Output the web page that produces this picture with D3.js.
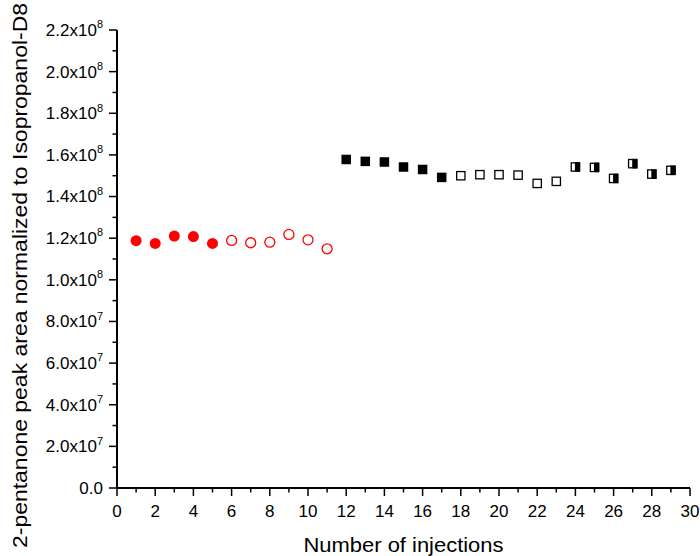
<!DOCTYPE html>
<html>
<head>
<meta charset="utf-8">
<script src="https://cdn.jsdelivr.net/npm/d3@7"></script>
<style>
  html, body { margin: 0; padding: 0; background: #fff; }
  svg { display: block; font-family: "Liberation Sans", Arial, sans-serif; }
</style>
</head>
<body>
<svg id="chart" width="700" height="556"></svg>
<script>
// Injection numbers and normalized peak areas, grouped by marker style
const injFilledCircle = [1, 2, 3, 4, 5];
const valFilledCircle = [1.188e8, 1.175e8, 1.210e8, 1.208e8, 1.175e8];

const injOpenCircle = [6, 7, 8, 9, 10, 11];
const valOpenCircle = [1.189e8, 1.178e8, 1.181e8, 1.218e8, 1.192e8, 1.149e8];

const injFilledSquare = [12, 13, 14, 15, 16, 17];
const valFilledSquare = [1.578e8, 1.569e8, 1.566e8, 1.542e8, 1.530e8, 1.492e8];

const injOpenSquare = [18, 19, 20, 21, 22, 23];
const valOpenSquare = [1.500e8, 1.505e8, 1.505e8, 1.503e8, 1.463e8, 1.473e8];

const injHalfSquare = [24, 25, 26, 27, 28, 29];
const valHalfSquare = [1.542e8, 1.540e8, 1.487e8, 1.558e8, 1.508e8, 1.526e8];

// Axis ticks and labels
const xTicks = [0, 2, 4, 6, 8, 10, 12, 14, 16, 18, 20, 22, 24, 26, 28, 30];
const yTicks = [0, 2e7, 4e7, 6e7, 8e7, 1e8, 1.2e8, 1.4e8, 1.6e8, 1.8e8, 2.0e8, 2.2e8];
const yTickMantissa = ["0.0", "2.0x10", "4.0x10", "6.0x10", "8.0x10", "1.0x10", "1.2x10",
                       "1.4x10", "1.6x10", "1.8x10", "2.0x10", "2.2x10"];
const yTickExponent = ["", "7", "7", "7", "7", "8", "8", "8", "8", "8", "8", "8"];

const xTitle = "Number of injections";
const yTitle = "2-pentanone peak area normalized to Isopropanol-D8";

const svg = d3.select("#chart");
const x = d3.scaleLinear().domain([0, 30]).range([117, 690]);
const y = d3.scaleLinear().domain([0, 2.2e8]).range([488, 30]);

const red = "#ff0000";

// X axis
const xAxis = svg.append("g").attr("transform", `translate(0,${y(0)})`);
xAxis.append("line")
  .attr("x1", x(0)).attr("x2", x(30)).attr("stroke", "#000").attr("stroke-width", 2);
xAxis.selectAll("line.minor").data(d3.range(1, 30, 2)).join("line")
  .attr("class", "minor")
  .attr("x1", d => x(d)).attr("x2", d => x(d))
  .attr("y1", 0).attr("y2", 4.5).attr("stroke", "#000").attr("stroke-width", 1.5);
xAxis.selectAll("line.major").data(xTicks).join("line")
  .attr("class", "major")
  .attr("x1", d => x(d)).attr("x2", d => x(d))
  .attr("y1", 0).attr("y2", 8).attr("stroke", "#000").attr("stroke-width", 1.5);
xAxis.selectAll("text").data(xTicks).join("text")
  .attr("x", d => x(d)).attr("y", 28.5)
  .attr("text-anchor", "middle").attr("font-size", 17)
  .text(d => d);

// Y axis
const yAxis = svg.append("g").attr("transform", `translate(${x(0)},0)`);
yAxis.append("line")
  .attr("y1", y(0)).attr("y2", y(2.2e8)).attr("stroke", "#000").attr("stroke-width", 2);
yAxis.selectAll("line.minor").data(d3.range(1e7, 2.2e8, 2e7)).join("line")
  .attr("class", "minor")
  .attr("y1", d => y(d)).attr("y2", d => y(d))
  .attr("x1", 0).attr("x2", -4.5).attr("stroke", "#000").attr("stroke-width", 1.5);
yAxis.selectAll("line.major").data(yTicks).join("line")
  .attr("class", "major")
  .attr("y1", d => y(d)).attr("y2", d => y(d))
  .attr("x1", 0).attr("x2", -8).attr("stroke", "#000").attr("stroke-width", 1.5);
const yLabels = yAxis.selectAll("text").data(yTicks).join("text")
  .attr("x", -14).attr("y", d => y(d)).attr("dy", "0.35em")
  .attr("text-anchor", "end").attr("font-size", 17);
yLabels.append("tspan").text((d, i) => yTickMantissa[i]);
yLabels.filter((d, i) => yTickExponent[i] !== "")
  .append("tspan")
  .attr("font-size", 11).attr("dy", "-0.7em")
  .text(d => yTickExponent[yTicks.indexOf(d)]);

// Axis titles
svg.append("text")
  .attr("x", (x(0) + x(30)) / 2).attr("y", 552)
  .attr("text-anchor", "middle").attr("font-size", 19.5)
  .attr("textLength", 200).attr("lengthAdjust", "spacingAndGlyphs")
  .text(xTitle);
svg.append("text")
  .attr("transform", `translate(27,275.5) rotate(-90)`)
  .attr("text-anchor", "middle").attr("font-size", 19.5)
  .attr("textLength", 545).attr("lengthAdjust", "spacingAndGlyphs")
  .text(yTitle);

// Markers
const plot = svg.append("g");
const zip = (xs, vs) => xs.map((d, i) => ({ x: d, v: vs[i] }));

plot.selectAll("circle.fc").data(zip(injFilledCircle, valFilledCircle)).join("circle")
  .attr("class", "fc")
  .attr("cx", d => x(d.x)).attr("cy", d => y(d.v)).attr("r", 5.5)
  .attr("fill", red);

plot.selectAll("circle.oc").data(zip(injOpenCircle, valOpenCircle)).join("circle")
  .attr("class", "oc")
  .attr("cx", d => x(d.x)).attr("cy", d => y(d.v)).attr("r", 5)
  .attr("fill", "#fff").attr("stroke", red).attr("stroke-width", 1.3);

const sq = 9.5;
plot.selectAll("rect.fs").data(zip(injFilledSquare, valFilledSquare)).join("rect")
  .attr("class", "fs")
  .attr("x", d => x(d.x) - sq / 2).attr("y", d => y(d.v) - sq / 2)
  .attr("width", sq).attr("height", sq).attr("fill", "#000");

plot.selectAll("rect.os").data(zip(injOpenSquare, valOpenSquare)).join("rect")
  .attr("class", "os")
  .attr("x", d => x(d.x) - sq / 2 + 0.6).attr("y", d => y(d.v) - sq / 2 + 0.6)
  .attr("width", sq - 1.2).attr("height", sq - 1.2)
  .attr("fill", "#fff").attr("stroke", "#000").attr("stroke-width", 1.3);

const half = plot.selectAll("g.hs").data(zip(injHalfSquare, valHalfSquare)).join("g")
  .attr("class", "hs")
  .attr("transform", d => `translate(${x(d.x)},${y(d.v)})`);
half.append("rect")
  .attr("x", -sq / 2 + 0.6).attr("y", -sq / 2 + 0.6)
  .attr("width", sq - 1.2).attr("height", sq - 1.2)
  .attr("fill", "#fff").attr("stroke", "#000").attr("stroke-width", 1.3);
half.append("rect")
  .attr("x", -0.5).attr("y", -sq / 2)
  .attr("width", sq / 2 + 0.5).attr("height", sq)
  .attr("fill", "#000");
</script>
</body>
</html>
